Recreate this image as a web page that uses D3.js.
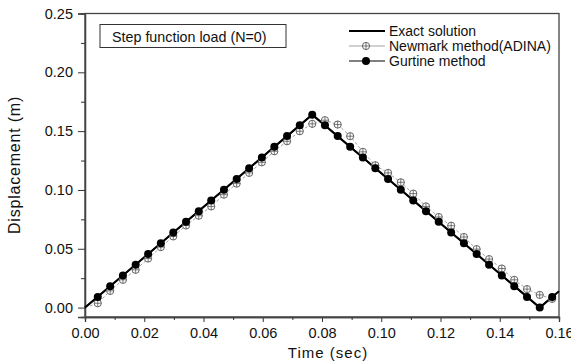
<!DOCTYPE html>
<html>
<head>
<meta charset="utf-8">
<script src="https://cdn.jsdelivr.net/npm/d3@7"></script>
<style>
  body { margin: 0; background: #fff; overflow: hidden; }
  svg text { font-family: "Liberation Sans", Arial, sans-serif; fill: #111; }
</style>
</head>
<body>
<div id="chart"></div>
<script>
// time steps (sec) shared by both numerical methods
var steps = [0.0043, 0.0085, 0.0128, 0.0171, 0.0213, 0.0256, 0.0298, 0.0341, 0.0384, 0.0426,
  0.0469, 0.0512, 0.0554, 0.0597, 0.0639, 0.0682, 0.0725, 0.0767, 0.0810, 0.0853,
  0.0895, 0.0938, 0.0980, 0.1023, 0.1066, 0.1108, 0.1151, 0.1194, 0.1236, 0.1279,
  0.1322, 0.1364, 0.1407, 0.1449, 0.1492, 0.1535, 0.1577];

var gurtine = [0.0091, 0.0182, 0.0273, 0.0364, 0.0456, 0.0547, 0.0638, 0.0729, 0.0820, 0.0911,
  0.1002, 0.1093, 0.1184, 0.1276, 0.1367, 0.1458, 0.1549, 0.1640, 0.1549, 0.1458,
  0.1367, 0.1276, 0.1184, 0.1093, 0.1002, 0.0911, 0.0820, 0.0729, 0.0638, 0.0547,
  0.0456, 0.0364, 0.0273, 0.0182, 0.0091, 0.0000, 0.0091];

var newmark = [0.0037, 0.0142, 0.0236, 0.0321, 0.0417, 0.0514, 0.0605, 0.0698, 0.0781, 0.0860,
  0.0960, 0.1054, 0.1145, 0.1235, 0.1329, 0.1414, 0.1499, 0.1562, 0.1593, 0.1556,
  0.1457, 0.1324, 0.1210, 0.1145, 0.1065, 0.0969, 0.0860, 0.0770, 0.0696, 0.0600,
  0.0497, 0.0412, 0.0332, 0.0236, 0.0157, 0.0108, 0.0074];

var exactT = [0, 0.0767, 0.1535, 0.16];
var exactY = [0, 0.164, 0, 0.0139];

var xTicks = [0, 0.02, 0.04, 0.06, 0.08, 0.10, 0.12, 0.14, 0.16];
var yTicks = [0, 0.05, 0.10, 0.15, 0.20, 0.25];
var legendNames = ["Exact solution", "Newmark method(ADINA)", "Gurtine method"];

var width = 571, height = 362;
var plotL = 85, plotR = 559, plotT = 13.5, plotB = 317;

var svg = d3.select("#chart").append("svg")
    .attr("width", width)
    .attr("height", height);

var x = d3.scaleLinear().domain([0, 0.16]).range([plotL, plotR]);
var y = d3.scaleLinear().domain([-0.008, 0.25]).range([plotB, plotT]);

// frame
svg.append("rect")
    .attr("x", plotL).attr("y", plotT)
    .attr("width", plotR - plotL).attr("height", plotB - plotT)
    .attr("fill", "none").attr("stroke", "#444").attr("stroke-width", 1.3);

// axes
svg.append("g").attr("transform", "translate(0," + plotB + ")")
    .call(d3.axisBottom(x).tickValues(xTicks).tickFormat(d3.format(".2f")).tickSize(5).tickPadding(6));
svg.append("g").attr("transform", "translate(0," + plotB + ")")
    .call(d3.axisBottom(x).tickValues([0.01, 0.03, 0.05, 0.07, 0.09, 0.11, 0.13, 0.15]).tickFormat("").tickSize(3));
svg.append("g").attr("transform", "translate(" + plotL + ",0)")
    .call(d3.axisLeft(y).tickValues(yTicks).tickFormat(d3.format(".2f")).tickSize(7).tickPadding(5));
svg.append("g").attr("transform", "translate(" + plotL + ",0)")
    .call(d3.axisLeft(y).tickValues([0.025, 0.075, 0.125, 0.175, 0.225]).tickFormat("").tickSize(4));

svg.selectAll(".domain").attr("stroke", "#444").attr("stroke-width", 1.3);
svg.selectAll(".tick line").attr("stroke", "#333");
svg.selectAll(".tick text").style("font-size", "14.5px").attr("fill", "#111");

// axis titles
svg.append("text")
    .attr("x", 328).attr("y", 358)
    .attr("text-anchor", "middle")
    .style("font-size", "15px").style("letter-spacing", "1px")
    .text("Time (sec)");
svg.append("text")
    .attr("transform", "translate(20,165) rotate(-90)")
    .attr("text-anchor", "middle")
    .style("font-size", "16px").style("letter-spacing", "0.8px")
    .text("Displacement (m)");

var plot = svg.append("g");
var line = d3.line().x(function (d) { return x(d[0]); }).y(function (d) { return y(d[1]); });

// exact solution
var exact = exactT.map(function (t, i) { return [t, exactY[i]]; });
plot.append("path")
    .datum(exact)
    .attr("fill", "none").attr("stroke", "#000").attr("stroke-width", 2)
    .attr("d", line);

// newmark
var nm = steps.map(function (t, i) { return [t, newmark[i]]; });
plot.append("path")
    .datum([[0, 0]].concat(nm))
    .attr("fill", "none").attr("stroke", "#999").attr("stroke-width", 0.9)
    .attr("stroke-dasharray", "3,2")
    .attr("d", line);

// gurtine
var gm = steps.map(function (t, i) { return [t, gurtine[i]]; });
plot.append("path")
    .datum([[0, 0]].concat(gm))
    .attr("fill", "none").attr("stroke", "#000").attr("stroke-width", 1.5)
    .attr("d", line);

function crossCircle(g, cx, cy) {
    var r = 3.6;
    g.append("circle").attr("cx", cx).attr("cy", cy).attr("r", r)
        .attr("fill", "#fff").attr("stroke", "#555").attr("stroke-width", 0.9);
    g.append("line").attr("x1", cx - r).attr("x2", cx + r).attr("y1", cy).attr("y2", cy)
        .attr("stroke", "#555").attr("stroke-width", 0.8);
    g.append("line").attr("x1", cx).attr("x2", cx).attr("y1", cy - r).attr("y2", cy + r)
        .attr("stroke", "#555").attr("stroke-width", 0.8);
}

nm.forEach(function (d) { crossCircle(plot, x(d[0]), y(d[1])); });

plot.selectAll(".gdot").data(gm).enter().append("circle")
    .attr("class", "gdot")
    .attr("cx", function (d) { return x(d[0]); })
    .attr("cy", function (d) { return y(d[1]); })
    .attr("r", 4).attr("fill", "#000");

// title box
svg.append("rect")
    .attr("x", 100).attr("y", 24.5).attr("width", 186).attr("height", 23)
    .attr("fill", "#fff").attr("stroke", "#333").attr("stroke-width", 1);
svg.append("text")
    .attr("x", 112).attr("y", 42)
    .style("font-size", "14.3px")
    .text("Step function load (N=0)");

// legend
var lg = svg.append("g");
var rowsY = [31, 46, 61];
legendNames.forEach(function (name, i) {
    var yy = rowsY[i];
    lg.append("line")
        .attr("x1", 349).attr("x2", 385).attr("y1", yy).attr("y2", yy)
        .attr("stroke", i === 1 ? "#999" : "#000")
        .attr("stroke-width", i === 0 ? 2 : (i === 1 ? 0.9 : 1));
    if (i === 1) crossCircle(lg, 366, yy);
    if (i === 2) lg.append("circle").attr("cx", 366).attr("cy", yy).attr("r", 4).attr("fill", "#000");
    lg.append("text")
        .attr("x", 389).attr("y", yy + 5)
        .style("font-size", "14px")
        .text(name);
});
</script>
</body>
</html>
